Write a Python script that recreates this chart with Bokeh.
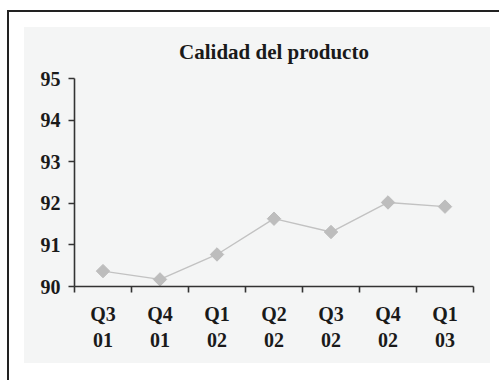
import numpy as np
from bokeh.plotting import figure
from bokeh.models import FixedTicker, Range1d
from bokeh.embed import file_html
from bokeh.resources import INLINE

# ---- data ----
title_text = "Calidad del producto"
quarters = ["Q3\n01", "Q4\n01", "Q1\n02", "Q2\n02", "Q3\n02", "Q4\n02", "Q1\n03"]
quality = [90.37, 90.17, 90.77, 91.63, 91.31, 92.02, 91.92]
y_ticks = [90, 91, 92, 93, 94, 95]

PANEL = "#f4f5f5"
TEXT = "#1a1a1a"
FONT = "Liberation Serif"

xs = [i + 0.5 for i in range(len(quarters))]

p = figure(width=499, height=380, output_backend="svg", toolbar_location=None,
           x_range=Range1d(0, len(quarters)), y_range=Range1d(90, 95),
           min_border_left=74, min_border_right=26, min_border_top=78, min_border_bottom=94)

p.styles = {
    "background": (
        f"linear-gradient({PANEL},{PANEL}) 24px 27px / 466px 336px no-repeat, "
        "linear-gradient(#222,#222) 7px 10px / 100% 2px no-repeat, "
        "linear-gradient(#222,#222) 7px 10px / 2px 100% no-repeat, "
        "#ffffff"
    )
}
p.border_fill_alpha = 0
p.background_fill_color = PANEL
p.outline_line_color = None
p.grid.visible = False

p.title.text = title_text
p.title.align = "center"
p.title.text_font = FONT
p.title.text_font_size = "21px"
p.title.text_font_style = "bold"
p.title.text_color = TEXT
p.title.standoff = 30

p.line(xs, quality, line_color="#c2c2c2", line_width=1.4)
p.scatter(xs, quality, marker="square", angle=np.pi / 4, size=9.5,
          fill_color="#bdbdbd", line_color="#bdbdbd")

# y axis
ya = p.yaxis[0]
ya.ticker = FixedTicker(ticks=y_ticks)
ya.axis_line_color = "#333333"
ya.axis_line_width = 1.6
ya.major_tick_line_color = "#333333"
ya.major_tick_line_width = 1.6
ya.major_tick_out = 6
ya.major_tick_in = 0
ya.minor_tick_line_color = None
ya.major_label_text_font = FONT
ya.major_label_text_font_size = "20px"
ya.major_label_text_font_style = "bold"
ya.major_label_text_color = TEXT
ya.major_label_standoff = 8

# x axis
xa = p.xaxis[0]
xa.ticker = FixedTicker(ticks=xs, minor_ticks=list(range(len(quarters) + 1)))
xa.major_label_overrides = {x: q for x, q in zip(xs, quarters)}
xa.axis_line_color = "#333333"
xa.axis_line_width = 1.6
xa.major_tick_line_color = None
xa.minor_tick_line_color = "#333333"
xa.minor_tick_line_width = 1.6
xa.minor_tick_out = 6
xa.minor_tick_in = 0
xa.major_tick_out = 6
xa.major_label_text_font = FONT
xa.major_label_text_font_size = "20px"
xa.major_label_text_font_style = "bold"
xa.major_label_text_color = TEXT
xa.major_label_standoff = 10
xa.major_label_text_line_height = 1.2

open("out.html", "w").write(file_html(p, INLINE))
